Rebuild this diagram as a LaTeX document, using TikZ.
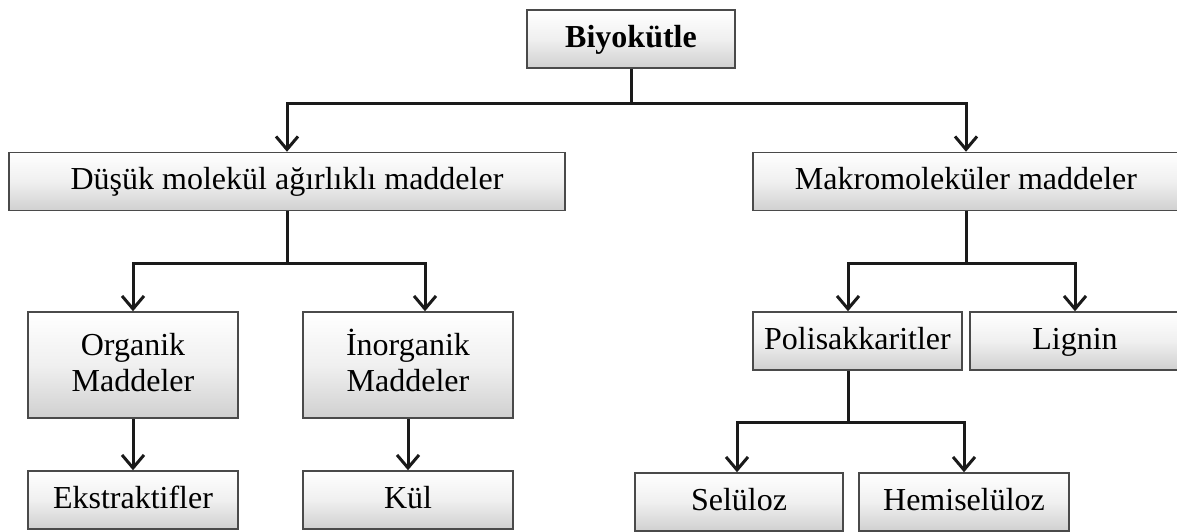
\documentclass[tikz,border=0pt]{standalone}
\usepackage{fontspec}
\setmainfont{Liberation Serif}
\usepackage{xcolor}
\definecolor{kenar}{HTML}{4A4A4A}
\definecolor{cizgi}{HTML}{1A1A1A}
\definecolor{kutualt}{HTML}{D0D0D0}
\usepackage{tikz}
\usetikzlibrary{arrows.meta, positioning, calc}

\tikzset{
  kutu/.style={draw=kenar, line width=1.5pt, top color=white, bottom color=kutualt,
    middle color=black!6, inner sep=0pt, align=center,
    text height=22pt, text depth=6pt,
    font=\fontsize{32}{36}\selectfont, minimum height=58pt},
  ikisatir/.style={minimum width=210pt, minimum height=106pt, text height=58pt},
  ok/.style={draw=cizgi, line width=3pt,
    -{Straight Barb[length=13pt,width=22pt]}},
}

\begin{document}
\begin{tikzpicture}[x=1pt, y=-1pt]
  \useasboundingbox (0,0) rectangle (1177,531);

  % ana kutu
  \node[kutu, minimum width=208pt, font=\fontsize{32}{36}\selectfont\bfseries]
    (bio) at (631,39) {Biyokütle};

  % ikinci seviye
  \node[kutu, minimum width=556pt] (dusuk) at (287,181.5) {Düşük molekül ağırlıklı maddeler};
  \node[kutu, minimum width=426pt] (makro) at (966,181.5) {Makromoleküler maddeler};

  % düşük molekül ağırlıklı dal
  \node[kutu, ikisatir] (org) at (133,365) {Organik\\Maddeler};
  \node[kutu, ikisatir] (inorg) at (408,365) {İnorganik\\Maddeler};
  \node[kutu, minimum width=210pt] (ekstr) at (133,500) {Ekstraktifler};
  \node[kutu, minimum width=210pt] (kul) at (408,500) {Kül};

  % makromoleküler dal
  \node[kutu, minimum width=209pt] (poli) at (857.5,341) {Polisakkaritler};
  \node[kutu, minimum width=210pt] (lignin) at (1075,341) {Lignin};
  \node[kutu, minimum width=208pt] (selu) at (739,502) {Selüloz};
  \node[kutu, minimum width=210pt] (hemi) at (964,502) {Hemiselüloz};

  % bağlantılar
  \draw[ok] (bio.south) -- ++(0,35) -| (dusuk.north);
  \draw[ok] (bio.south) -- ++(0,35) -| (makro.north);

  \draw[ok] (dusuk.south) -- ++(0,52.5) -| (org.north);
  \draw[ok] (dusuk.south) -- ++(0,52.5) -| ([xshift=17pt]inorg.north);
  \draw[ok] (org) -- (ekstr);
  \draw[ok] (inorg) -- (kul);

  \draw[ok] (makro.south) -- ++(0,52.5) -| ([xshift=-9.5pt]poli.north);
  \draw[ok] (makro.south) -- ++(0,52.5) -| (lignin.north);
  \draw[ok] ([xshift=-9.5pt]poli.south) -- ++(0,52) -| ([xshift=-2pt]selu.north);
  \draw[ok] ([xshift=-9.5pt]poli.south) -- ++(0,52) -| (hemi.north);
\end{tikzpicture}
\end{document}
